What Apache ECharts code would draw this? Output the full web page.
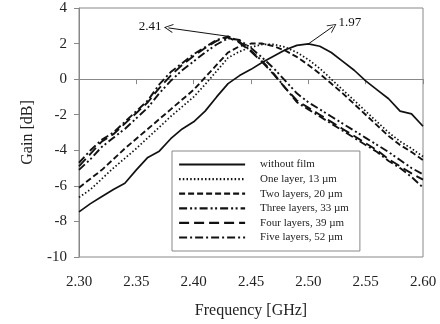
<!DOCTYPE html>
<html><head><meta charset="utf-8">
<script src="https://cdn.jsdelivr.net/npm/echarts@6/dist/echarts.min.js"></script>
<style>html,body{margin:0;padding:0;background:#fff}#c{width:440px;height:324px}</style>
</head><body><div id="c"></div>
<script>
var freq = [2.30,2.31,2.32,2.33,2.34,2.35,2.36,2.37,2.38,2.39,2.40,2.41,2.42,2.43,2.44,2.45,2.46,2.47,2.48,2.49,2.50,2.51,2.52,2.53,2.54,2.55,2.56,2.57,2.58,2.59,2.60];
var withoutFilm = [-7.46,-7.0,-6.6,-6.2,-5.85,-5.1,-4.4,-4.05,-3.35,-2.8,-2.4,-1.8,-1.0,-0.25,0.2,0.55,0.95,1.3,1.65,1.9,1.98,1.85,1.5,1.0,0.5,-0.1,-0.6,-1.1,-1.8,-1.95,-2.65];
var oneLayer = [-6.65,-6.2,-5.6,-5.0,-4.45,-3.9,-3.3,-2.7,-2.1,-1.55,-1.0,-0.3,0.45,1.2,1.55,1.8,1.95,1.95,1.8,1.5,1.1,0.6,0.0,-0.6,-1.2,-1.8,-2.4,-3.0,-3.5,-3.9,-4.35];
var twoLayers = [-6.1,-5.6,-5.1,-4.5,-3.9,-3.35,-2.8,-2.25,-1.7,-1.15,-0.6,0.1,0.8,1.5,1.85,2.0,2.0,1.85,1.6,1.25,0.8,0.3,-0.25,-0.8,-1.4,-2.0,-2.6,-3.2,-3.7,-4.1,-4.55];
var threeLayers = [-5.1,-4.5,-3.8,-3.3,-2.8,-2.2,-1.6,-0.8,-0.1,0.5,1.0,1.5,1.95,2.3,2.2,1.75,1.2,0.6,-0.1,-0.8,-1.3,-1.7,-2.1,-2.5,-2.9,-3.3,-3.7,-4.1,-4.55,-5.0,-5.35];
var fourLayers = [-4.9,-4.2,-3.5,-3.1,-2.5,-1.9,-1.3,-0.5,0.2,0.8,1.3,1.75,2.15,2.35,2.05,1.55,0.95,0.25,-0.5,-1.2,-1.6,-2.0,-2.4,-2.8,-3.2,-3.6,-4.0,-4.5,-4.9,-5.3,-5.65];
var fiveLayers = [-4.7,-4.0,-3.4,-3.0,-2.4,-1.8,-1.2,-0.3,0.4,0.9,1.4,1.8,2.2,2.41,2.1,1.6,1.0,0.3,-0.5,-1.3,-1.7,-2.1,-2.5,-2.9,-3.3,-3.7,-4.1,-4.6,-5.0,-5.5,-6.1];
var seriesNames = ['without film','One layer, 13 \u00b5m','Two layers, 20 \u00b5m','Three layers, 33 \u00b5m','Four layers, 39 \u00b5m','Five layers, 52 \u00b5m'];
var xTicks = [2.30,2.35,2.40,2.45,2.50,2.55,2.60];
var yTicks = [-10,-8,-6,-4,-2,0,2,4];
// annotations: [from point, arrow tip], label
var peakShifted = [[2.432,2.39],[2.378,2.88]];
var peakShiftedLabel = '2.41';
var peakRef = [[2.500,1.98],[2.5213,2.95]];
var peakRefLabel = '1.97';

var font = 'Liberation Serif';
var allGains = [withoutFilm, oneLayer, twoLayers, threeLayers, fourLayers, fiveLayers];
var dashTypes = ['solid',[1.5,2.2],[6,3],[8,3,2,2.5,2,3],[10,5],[8,3,2,3]];
var widths = [1.7,1.7,1.9,1.9,1.9,1.9];
var chevron = 'path://M0,0 L6,10 L4.8,10 L0,2 L-4.8,10 L-6,10 Z';

var series = allGains.map(function(g, i){
  return {
    name: seriesNames[i], type:'line', symbol:'none', showSymbol:false, smooth:false,
    data: freq.map(function(f,k){ return [f, g[k]]; }),
    lineStyle:{color:'#111', width:widths[i], type:dashTypes[i]},
    itemStyle:{color:'#111'}, z: 3
  };
});
series[0].markLine = {
  silent:true, animation:false,
  symbol:['none', chevron], symbolSize:[9,9],
  lineStyle:{color:'#111', width:1, type:'solid'},
  label:{show:true, position:'end', distance:7, fontFamily:font, fontSize:13, color:'#111', formatter:function(p){return p.name;}},
  data:[
    [{coord:peakShifted[0], name:peakShiftedLabel},{coord:peakShifted[1]}],
    [{coord:peakRef[0], name:peakRefLabel},{coord:peakRef[1]}]
  ]
};

var chart = echarts.init(document.getElementById('c'), null, {renderer:'canvas'});
chart.setOption({
  animation:false,
  backgroundColor:'#fff',
  grid:{left:79, right:17, top:8, bottom:66, show:true, borderColor:'#888', borderWidth:1, backgroundColor:'transparent'},
  xAxis:{type:'value', min:2.30, max:2.60, interval:0.05,
    name:'Frequency [GHz]', nameLocation:'middle', nameGap:46,
    nameTextStyle:{fontFamily:font, fontSize:16, color:'#222'},
    axisLine:{show:true, lineStyle:{color:'#888'}},
    axisTick:{show:true, inside:false, length:5, lineStyle:{color:'#888'}},
    splitLine:{show:false},
    axisLabel:{margin:18, fontFamily:font, fontSize:15, color:'#222', formatter:function(v){return v.toFixed(2);}}
  },
  yAxis:{type:'value', min:-10, max:4, interval:2,
    name:'Gain [dB]', nameLocation:'middle', nameGap:41, nameRotate:90,
    nameTextStyle:{fontFamily:font, fontSize:16, color:'#222'},
    axisLine:{show:true, lineStyle:{color:'#888'}},
    axisTick:{show:true, inside:false, length:5, lineStyle:{color:'#888'}},
    splitLine:{show:false},
    axisLabel:{margin:12, fontFamily:font, fontSize:15, color:'#222'}
  },
  legend:{
    data:seriesNames, orient:'vertical', left:172, top:151,
    padding:[8,11,8,6], itemWidth:66, itemHeight:10, itemGap:3.6,
    backgroundColor:'#fff', borderColor:'#888', borderWidth:1,
    itemStyle:{opacity:0},
    lineStyle:{width:2.2},
    textStyle:{fontFamily:font, fontSize:11, color:'#222', padding:[0,0,0,10]}
  },
  series:series
});
</script></body></html>
